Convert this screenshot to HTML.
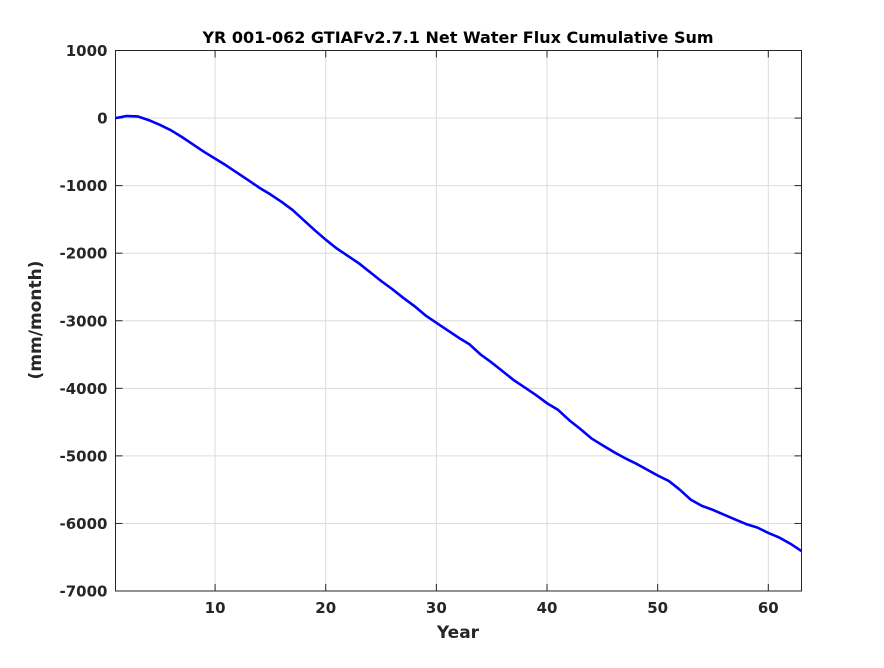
<!DOCTYPE html>
<html><head><meta charset="utf-8"><style>
html,body{margin:0;padding:0;background:#fff;}
svg text{font-family:"DejaVu Sans","Liberation Sans",sans-serif;font-weight:bold;fill:#262626;}
</style></head><body>
<svg id="chart" width="884" height="663" xmlns="http://www.w3.org/2000/svg">
<rect x="0" y="0" width="884" height="663" fill="#fff"/>
<g id="grid"></g>
<g id="axes"></g>
<path id="line" fill="none" stroke="#0000ff" stroke-width="2.6" stroke-linejoin="round"/>
<text x="458" y="43" text-anchor="middle" font-size="16" style="fill:#000">YR 001-062 GTIAFv2.7.1 Net Water Flux Cumulative Sum</text>
<text x="458" y="638" text-anchor="middle" font-size="17">Year</text>
<text transform="translate(41,320) rotate(-90)" text-anchor="middle" font-size="17">(mm/month)</text>
</svg>
<script>
const years=[1,2,3,4,5,6,7,8,9,10,11,12,13,14,15,16,17,18,19,20,21,22,23,24,25,26,27,28,29,30,31,32,33,34,35,36,37,38,39,40,41,42,43,44,45,46,47,48,49,50,51,52,53,54,55,56,57,58,59,60,61,62,63];
const values=[0,30,25,-30,-100,-180,-280,-390,-500,-600,-700,-810,-920,-1030,-1130,-1240,-1360,-1510,-1660,-1800,-1930,-2040,-2150,-2280,-2410,-2530,-2660,-2780,-2920,-3030,-3140,-3250,-3350,-3500,-3620,-3750,-3880,-3990,-4100,-4220,-4320,-4470,-4600,-4740,-4840,-4940,-5030,-5110,-5200,-5290,-5370,-5500,-5650,-5740,-5800,-5870,-5940,-6010,-6060,-6140,-6210,-6300,-6410];
const xTicks=[10,20,30,40,50,60];
const yTicks=[1000,0,-1000,-2000,-3000,-4000,-5000,-6000,-7000];
const L=115.5,R=801.5,T=50.5,B=591;
const xMin=1,xMax=63,yMin=-7000,yMax=1000;
function sx(v){return L+(v-xMin)/(xMax-xMin)*(R-L);}
function sy(v){return B-(v-yMin)/(yMax-yMin)*(B-T);}
const NS="http://www.w3.org/2000/svg";
const grid=document.getElementById('grid'),axes=document.getElementById('axes');
function mk(tag,attrs,parent){const e=document.createElementNS(NS,tag);for(const k in attrs)e.setAttribute(k,attrs[k]);parent.appendChild(e);return e;}
xTicks.forEach(t=>{
  const x=sx(t);
  const g=mk('line',{x1:x,x2:x,y1:T,y2:B,stroke:'#dcdcdc','stroke-width':1},grid);
  
  
  mk('line',{x1:x,x2:x,y1:B,y2:B-7,stroke:'#262626','stroke-width':1},axes);
  mk('line',{x1:x,x2:x,y1:T,y2:T+7,stroke:'#262626','stroke-width':1},axes);
  const tx=mk('text',{x:x,y:B+22,'text-anchor':'middle','font-size':15},axes);
  tx.textContent=t;
  
  
});
yTicks.forEach(t=>{
  const y=sy(t);
  const g=mk('line',{x1:L,x2:R,y1:y,y2:y,stroke:'#dcdcdc','stroke-width':1},grid);
  
  
  mk('line',{x1:L,x2:L+7,y1:y,y2:y,stroke:'#262626','stroke-width':1},axes);
  mk('line',{x1:R,x2:R-7,y1:y,y2:y,stroke:'#262626','stroke-width':1},axes);
  const tx=mk('text',{x:L-8,y:y+5.5,'text-anchor':'end','font-size':15},axes);
  tx.textContent=t;
  
  
});
const box=mk('rect',{x:L,y:T,width:R-L,height:B-T,fill:'none',stroke:'#262626','stroke-width':1},axes);


document.getElementById('line').setAttribute('d',years.map((yr,i)=>(i?'L':'M')+sx(yr).toFixed(1)+','+sy(values[i]).toFixed(1)).join(''));
</script>
</body></html>
